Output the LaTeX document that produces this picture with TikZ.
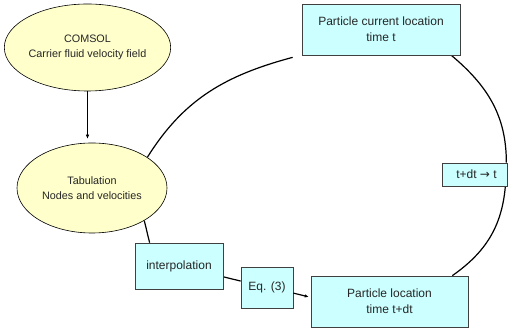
\documentclass[tikz,border=0pt]{standalone}
\usepackage{fontspec}
\setmainfont{Liberation Sans}
\newfontfamily\arrowfont{DejaVu Sans}
\usetikzlibrary{shapes,positioning,arrows.meta,backgrounds}

\definecolor{fluid}{HTML}{FFFFCC}
\definecolor{part}{HTML}{CCFFFF}
\definecolor{rim}{HTML}{404040}

\begin{document}
\begin{tikzpicture}[x=1pt, y=1pt]

        \useasboundingbox (0,0) rectangle (509,329);

        % Looks of the two kinds of blocks, the yellow
        % ovals for the flow field and the cyan cells
        \tikzset{
            oval/.style={ellipse, draw=black, line width=0.6pt,
                fill=fluid, inner sep=0pt, align=center,
                text=black!85, font=\fontsize{10.8}{14.5}\selectfont},
            cell/.style={rectangle, draw=rim, line width=0.7pt,
                fill=part, inner sep=0pt, align=center,
                text=black!85, font=\fontsize{12}{16}\selectfont},
            loop/.style={draw=black, line width=1.2pt}
        }

        % Scope used for the blocks
        \begin{scope}
            \node[oval, minimum width=149pt, minimum height=87pt]
            (CF) at (87.5, 281.5) {COMSOL\\Carrier fluid velocity field};
            \node[oval, minimum width=150pt, minimum height=90pt]
            (TB) at (92, 141) {Tabulation\\Nodes and velocities};
            \node[cell, minimum width=88pt, minimum height=46pt]
            (IP) at (179, 63) {interpolation};
            \node[cell, minimum width=52pt, minimum height=41pt]
            (EQ) at (267, 41.5) {Eq. (3)};
            \node[cell, minimum width=157pt, minimum height=51pt]
            (PL) at (389.5, 27.5) {Particle location\\time t+dt};
            \node[cell, minimum width=158pt, minimum height=51pt]
            (PC) at (381, 299.5) {Particle current location\\time t};
            \node[cell, minimum width=65pt, minimum height=23pt]
            (DT) at (474.5, 154.5) {\hspace*{4pt}t+dt {\arrowfont →} t};
        \end{scope}

        % The loop, kept behind the blocks
        \begin{pgfonlayer}{background}
            \coordinate (PCin) at ([xshift=-9pt, yshift=-2pt]PC.south west);
            \draw[loop] (TB.29) to[out=58, in=195] (PCin);
            \draw[loop] ([xshift=-9pt]PC.south east)
                to[out=-40, in=90] ([xshift=-1pt]DT.north east);
            \draw[loop] ([xshift=-2pt]DT.south east)
                to[out=-95, in=35] ([xshift=-16pt]PL.north east);
            \draw[loop] (TB.-32) to[out=-75, in=105]
                ([xshift=15pt]IP.north west);
            \draw[loop] (IP) -- (EQ);
        \end{pgfonlayer}

        \draw[-{Latex[length=4pt, width=3.5pt]}, line width=0.6pt,
            shorten >=4pt] (CF) -- (CF |- TB.north);
        \draw[-{Latex[length=4pt, width=3.5pt]}, line width=1.2pt,
            shorten >=2pt] (EQ.-12) -- (PL.177);

\end{tikzpicture}
\end{document}
